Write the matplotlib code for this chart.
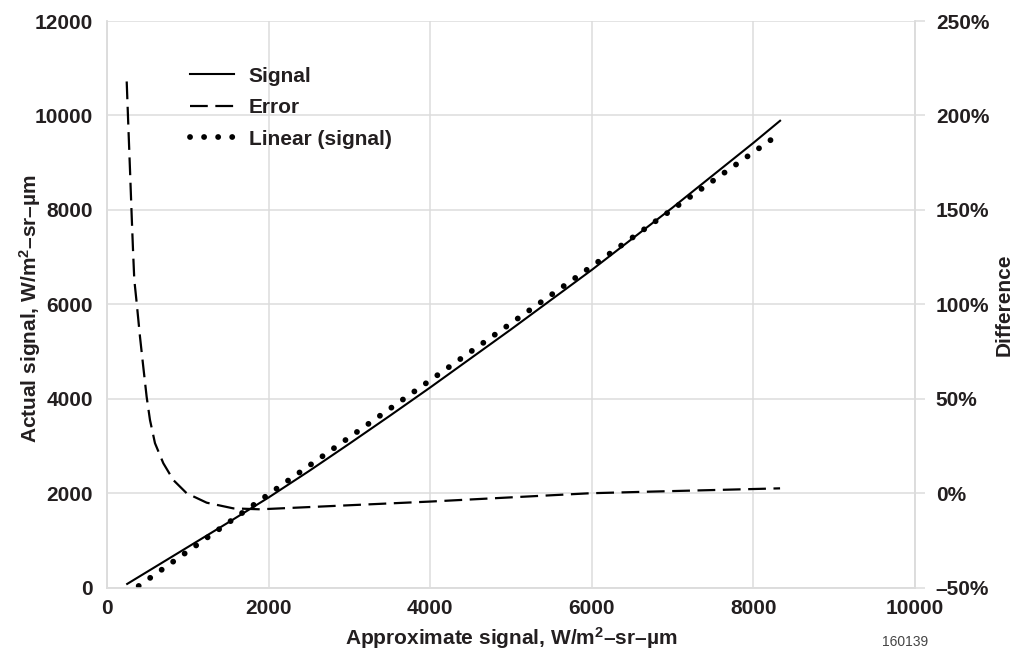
import matplotlib
matplotlib.use("Agg")
import matplotlib.pyplot as plt

# ---- data ----
sig_x = [250, 500, 1000, 1500, 2000, 2500, 3000, 3500, 4000, 5000, 6000, 7000, 8000, 8330]
sig_y = [80, 340, 860, 1380, 1910, 2470, 3050, 3640, 4240, 5470, 6730, 8050, 9420, 9888]

lin_x = [250, 8330]
lin_y = [-135, 9620]

err_x = [244, 266, 285, 306, 322, 338, 368, 408, 449, 491, 532, 594, 697, 821, 986,
         1234, 1563, 1894, 4000, 5978, 6720, 8330]
err_pct = [218, 192.4, 171, 146.5, 128.9, 113, 100.6, 83, 67, 51, 38.8, 26.5, 15.9, 7.0, 0,
           -5, -8, -8.5, -4.4, 0, 0.85, 2.6]

x_ticks = [0, 2000, 4000, 6000, 8000, 10000]
y_ticks = [0, 2000, 4000, 6000, 8000, 10000, 12000]
pct_ticks = [-50, 0, 50, 100, 150, 200, 250]
pct_labels = ['\u201350%', '0%', '50%', '100%', '150%', '200%', '250%']

# ---- style ----
FONT = 'Liberation Sans'
plt.rcParams['font.family'] = [FONT, 'DejaVu Sans']
plt.rcParams['mathtext.fontset'] = 'custom'
plt.rcParams['mathtext.rm'] = FONT + ':bold'
plt.rcParams['mathtext.it'] = FONT + ':bold'
plt.rcParams['mathtext.bf'] = FONT + ':bold'
TXT = '#231f20'
GRID = '#dcdcdc'
FS = 15

fig = plt.figure(figsize=(10.16, 6.53), dpi=100)
ax = fig.add_axes([0.1053, 0.1000, 0.7953, 0.8678])
ax2 = ax.twinx()

ax.set_xlim(0, 10000)
ax.set_ylim(0, 12000)
ax2.set_ylim(-50, 250)

ax.set_xticks(x_ticks)
ax.set_xticklabels([str(v) for v in x_ticks])
ax.set_yticks(y_ticks)
ax.set_yticklabels([str(v) for v in y_ticks])
ax2.set_yticks(pct_ticks)
ax2.set_yticklabels(pct_labels)

ax.grid(True, color=GRID, linewidth=1.1)
ax.set_axisbelow(True)
for a in (ax, ax2):
    for s in a.spines.values():
        s.set_color(GRID)
        s.set_linewidth(1.1)
    a.spines['top'].set_visible(False)

ax.tick_params(axis='x', length=0, pad=8, labelsize=FS, labelcolor=TXT)
ax.tick_params(axis='y', length=0, pad=10, labelsize=FS, labelcolor=TXT)
ax2.tick_params(axis='y', length=7, width=1.1, color=GRID, pad=8, labelsize=FS, labelcolor=TXT)
for lab in ax.get_xticklabels() + ax.get_yticklabels() + ax2.get_yticklabels():
    lab.set_fontweight('bold')

# ---- series ----
l_sig, = ax.plot(sig_x, sig_y, color='black', linewidth=1.5, label='Signal', zorder=3)
l_lin, = ax.plot(lin_x, lin_y, color='black', linewidth=4.2,
                 linestyle=(0, (0.01, 2.4)), dash_capstyle='round',
                 label='Linear (signal)', zorder=3)
l_err, = ax2.plot(err_x, err_pct, color='black', linewidth=1.6,
                  linestyle=(0, (8, 3.4)), label='Error', zorder=3)

# ---- labels ----
ax.set_xlabel('Approximate signal, W/m$^{2}$\u2013sr\u2013\u00b5m', fontsize=FS,
              fontweight='bold', color=TXT, labelpad=5)
ax.set_ylabel('Actual signal, W/m$^{2}$\u2013sr\u2013\u00b5m', fontsize=FS,
              fontweight='bold', color=TXT)
ax.yaxis.set_label_coords(-0.079, 0.493)
ax2.set_ylabel('Difference', fontsize=FS, fontweight='bold', color=TXT,
               rotation=90, labelpad=4)

leg = ax.legend(handles=[l_sig, l_err, l_lin], loc='upper left',
                bbox_to_anchor=(0.187, 0.898), bbox_transform=fig.transFigure,
                frameon=False, handlelength=2.1, handletextpad=0.72,
                labelspacing=0.6, borderaxespad=0, borderpad=0,
                prop={'family': FONT, 'weight': 'bold', 'size': FS})
for t in leg.get_texts():
    t.set_color(TXT)

fig.text(0.891, 0.006, '160139', fontsize=10, color='#444444', ha='center', va='bottom')

fig.savefig('out.png', dpi=100)
